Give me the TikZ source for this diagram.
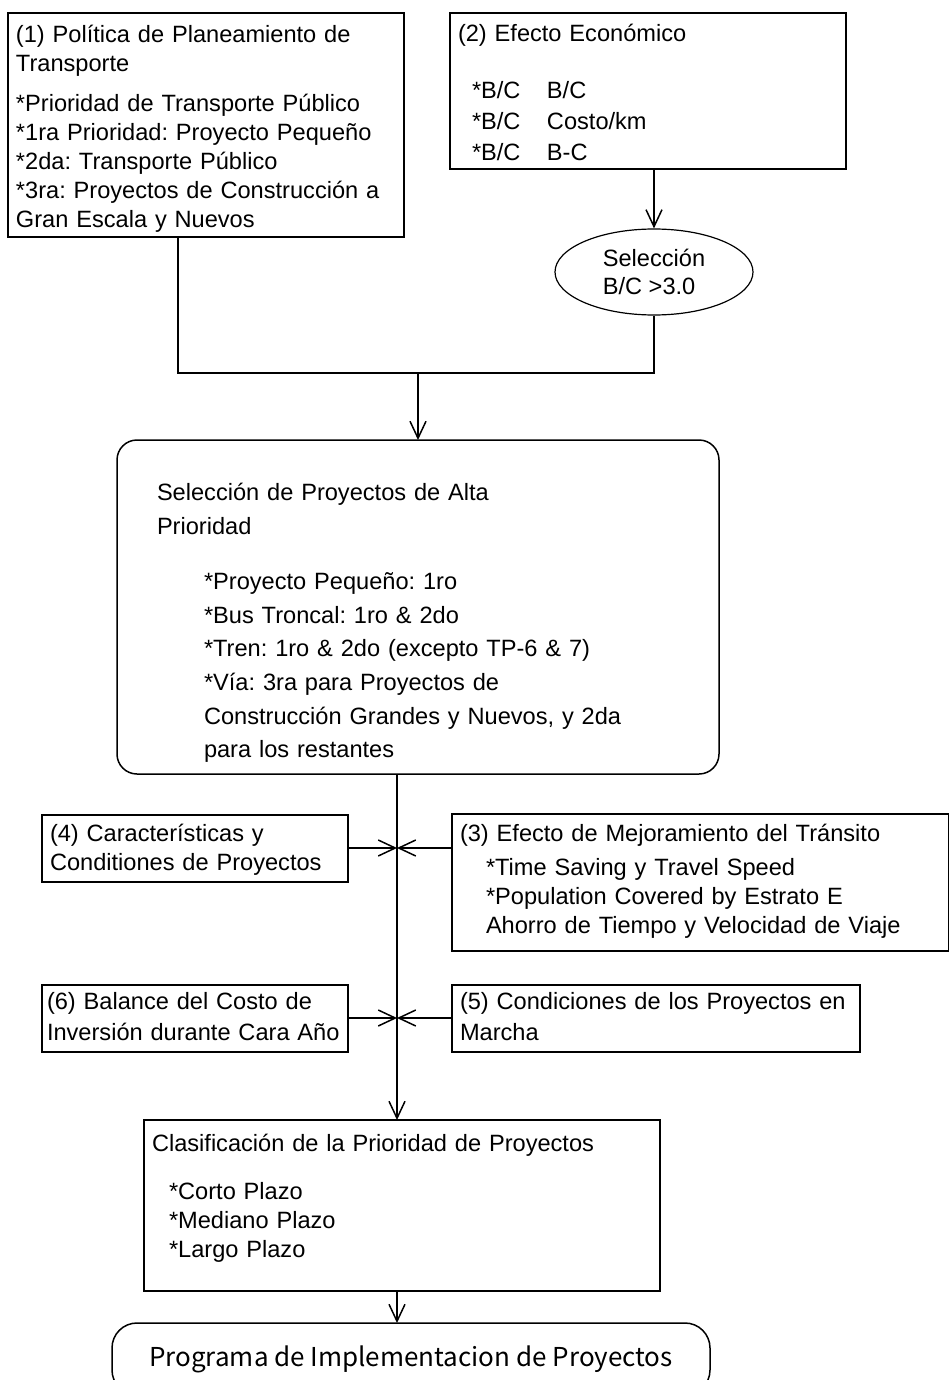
\documentclass[tikz,border=0pt]{standalone}
\usepackage{fontspec}
\setmainfont{Liberation Sans}
\newfontfamily\progfont{Noto Sans CJK JP}
\usetikzlibrary{arrows.meta,positioning,shapes.geometric}
\frenchspacing

\begin{document}
\begin{tikzpicture}[x=1pt, y=-1pt, line width=1.5pt,
    >={Straight Barb[length=17pt,width=16pt]},
    pbox/.style={draw, rectangle, anchor=north west, align=left, outer sep=0pt,
        inner xsep=8pt, inner ysep=10pt, font=\fontsize{23.6}{29}\selectfont},
    sel/.style={draw, ellipse, align=left, inner sep=0pt, line width=1.2pt,
        minimum width=198pt, minimum height=86pt, font=\fontsize{23.6}{28}\selectfont},
    prog/.style={draw, rectangle, rounded corners=25pt, anchor=north west, outer sep=0pt,
        minimum width=598pt, minimum height=72pt, font=\progfont\fontsize{26}{30}\selectfont}]
    \useasboundingbox (0,0) rectangle (948,1380);

    % upper boxes
    \node[pbox, text width=380pt, text height=19.5pt, text depth=184.5pt] (pol) at (8,13)
        {(1) Política de Planeamiento de\\Transporte\\[11pt]*Prioridad de Transporte Público\\{}*1ra Prioridad: Proyecto Pequeño\\{}*2da: Transporte Público\\{}*3ra: Proyectos de Construcción a\\Gran Escala y Nuevos};
    \node[pbox, text width=380pt, text height=18.5pt, text depth=117.5pt] (eco) at (450,13)
        {(2) Efecto Económico\\[28pt]\hspace*{14pt}\makebox[75pt][l]{*B/C}B/C\\[2pt]\hspace*{14pt}\makebox[75pt][l]{*B/C}Costo/km\\[2pt]\hspace*{14pt}\makebox[75pt][l]{*B/C}B-C};
    \node[sel] (bc) at (654,272) {Selección\\B/C >3.0};

    % high priority selection
    \node[pbox, rounded corners=20pt, inner xsep=40pt, text width=522pt, text height=50.5pt, text depth=263.5pt,
        font=\fontsize{23.6}{33.6}\selectfont] (alta) at (117,440)
        {Selección de Proyectos de Alta\\Prioridad\\[22pt]\hspace*{47pt}*Proyecto Pequeño: 1ro\\\hspace*{47pt}*Bus Troncal: 1ro \& 2do\\\hspace*{47pt}*Tren: 1ro \& 2do (excepto TP-6 \& 7)\\\hspace*{47pt}*Vía: 3ra para Proyectos de\\\hspace*{47pt}Construcción Grandes y Nuevos, y 2da\\\hspace*{47pt}para los restantes};

    % side conditions
    \node[pbox, text width=290pt, text height=16.5pt, text depth=30.5pt] (carac) at (42,815)
        {(4) Características y\\Conditiones de Proyectos};
    \node[pbox, text width=481pt, text height=17.5pt, text depth=99.5pt] (transito) at (452,814)
        {(3) Efecto de Mejoramiento del Tránsito\\[5pt]\hspace*{26pt}*Time Saving y Travel Speed\\\hspace*{26pt}*Population Covered by Estrato E\\\hspace*{26pt}Ahorro de Tiempo y Velocidad de Viaje};
    \node[pbox, inner xsep=5pt, text width=296pt, text height=14.5pt, text depth=32.5pt] (balance) at (42,985)
        {(6) Balance del Costo de\\[2pt]Inversión durante Cara Año};
    \node[pbox, text width=392pt, text height=14.5pt, text depth=32.5pt] (marcha) at (452,985)
        {(5) Condiciones de los Proyectos en\\[2pt]Marcha};

    % ranking and program
    \node[pbox, text width=500pt, text height=21.5pt, text depth=129.5pt] (clas) at (144,1120)
        {Clasificación de la Prioridad de Proyectos\\[19pt]\hspace*{17pt}*Corto Plazo\\\hspace*{17pt}*Mediano Plazo\\\hspace*{17pt}*Largo Plazo};
    \node[prog] (impl) at (112,1323) {Programa de Implementacion de Proyectos};

    % connectors
    \coordinate (c1) at (178,373);
    \coordinate (t) at (397,0);
    \coordinate (j1) at (397,848);
    \coordinate (j2) at (397,1018);
    \draw[->] (eco.south -| bc.north) -- (bc.north);
    \draw (pol.south -| c1) -- (c1) -- (c1 -| bc.south) -- (bc.south);
    \draw[->] (c1 -| alta.north) -- (alta.north);
    \draw[->] (alta.south -| t) -- (clas.north -| t);
    \draw[->] (carac.east |- j1) -- (j1);
    \draw[->] (transito.west |- j1) -- (j1);
    \draw[->] (balance.east |- j2) -- (j2);
    \draw[->] (marcha.west |- j2) -- (j2);
    \draw[->] (clas.south -| t) -- (impl.north -| t);
\end{tikzpicture}
\end{document}
